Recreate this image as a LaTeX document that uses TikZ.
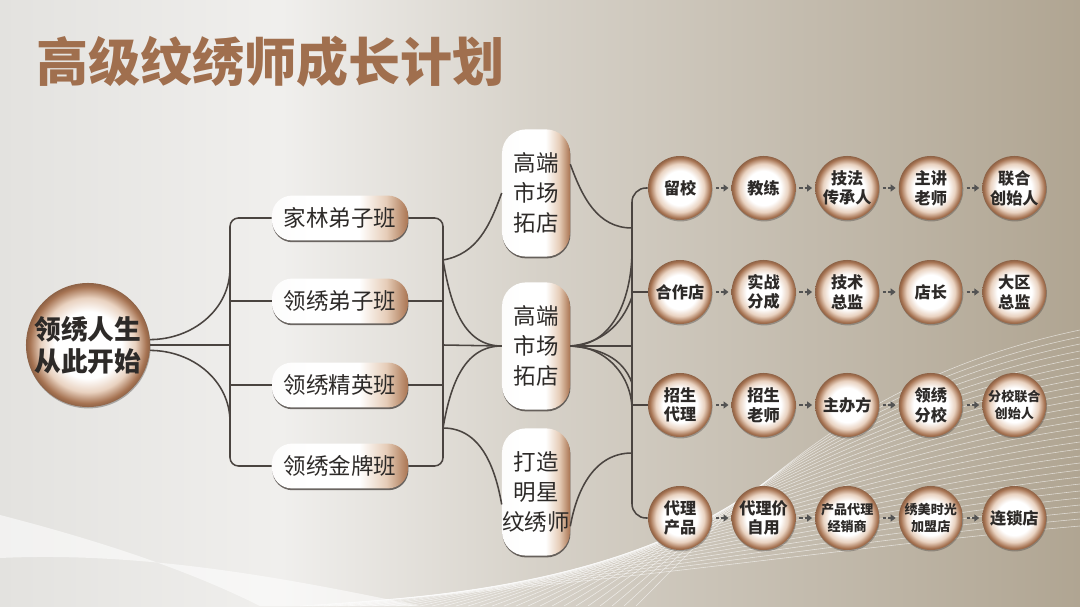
\documentclass[tikz,border=0pt]{standalone}
\usepackage{fontspec}
\setmainfont{Noto Sans CJK SC}
\usetikzlibrary{positioning,shadows,arrows.meta}

\definecolor{titlebrown}{HTML}{A06F4E}
\definecolor{balledge}{HTML}{A67352}
\definecolor{ballmid}{HTML}{E9D2C0}
\definecolor{boxedge}{HTML}{AA7552}
\definecolor{boxmid}{HTML}{E6CDB8}
\definecolor{wire}{HTML}{4A4440}
\definecolor{ink}{HTML}{2D2A28}
\definecolor{bgL}{HTML}{E3E2DF}
\definecolor{bgW}{HTML}{F0EFED}
\definecolor{bgM}{HTML}{D6D1C8}
\definecolor{bgR}{HTML}{B0A592}

\pgfdeclareradialshading{ballshade}{\pgfpoint{0bp}{0bp}}{color(0bp)=(white); color(13.5bp)=(white); color(19bp)=(ballmid); color(23.5bp)=(balledge); color(25bp)=(balledge!85!black); color(50bp)=(balledge!85!black)}
\pgfdeclarehorizontalshading{pillshade}{100bp}{color(0bp)=(white!94!bgM); color(25bp)=(white!94!bgM); color(40bp)=(white); color(57bp)=(white); color(67bp)=(boxmid); color(75bp)=(boxedge); color(100bp)=(boxedge)}
\pgfdeclarehorizontalshading{backdrop}{100bp}{color(0bp)=(bgL); color(25bp)=(bgL); color(38bp)=(bgW); color(50bp)=(bgM); color(75bp)=(bgR); color(100bp)=(bgR)}

\begin{document}
\begin{tikzpicture}[x=0.025cm, y=0.025cm, node distance=0.475cm,
    wire/.style={draw=wire, line width=1.1pt},
    ball/.style={circle, shade, shading=ballshade, minimum size=1.6cm, inner sep=0pt,
      align=center, text=ink, font=\bfseries\fontsize{11.5}{14}\selectfont,
      drop shadow={shadow xshift=0.4pt, shadow yshift=-1pt, opacity=0.4, fill=wire}},
    cramped/.style={font=\bfseries\fontsize{9.3}{12.5}\selectfont},
    pill/.style={rounded corners=0.5cm, shade, shading=pillshade, minimum width=3.4cm,
      minimum height=1.12cm, text=ink, font=\fontsize{16}{20}\selectfont,
      drop shadow={shadow xshift=0.3pt, shadow yshift=-1.3pt, opacity=0.8, fill=wire}},
    tower/.style={rounded corners=0.6cm, shade, shading=pillshade, minimum width=1.7cm,
      minimum height=3.18cm, inner xsep=0pt, align=center, text=ink,
      font=\fontsize{16}{21.3}\selectfont,
      drop shadow={shadow xshift=0.3pt, shadow yshift=-1.3pt, opacity=0.8, fill=wire}},
    hop/.style={-{Triangle[length=3.5pt,width=5pt]}, line width=2pt, draw=gray!65!black,
      dash pattern=on 2.5pt off 1.3pt, shorten <=2.5pt, shorten >=2pt},
    heading/.style={anchor=west, inner sep=0pt, text=titlebrown,
      font=\bfseries\fontsize{37}{40}\selectfont}]

\useasboundingbox (0,0) rectangle (1080,606);
\shade[shading=backdrop] (0,0) rectangle (1080,606);
\fill[white, opacity=0.55] (0,91) .. controls (120,60) and (200,30) .. (260,0)
  -- (420,0) .. controls (300,25) and (150,55) .. (0,48) -- cycle;
\foreach \k in {0,...,28}
  \draw[white, opacity=0.6, line width=0.4pt]
    (300+\k*12,0) .. controls (600+\k*5,20+\k*3) and (850,60+\k*6) .. (1080,80+\k*7);

\node[heading] (title) at (36,544) {高级纹绣师成长计划};

\node[ball, minimum size=3.1cm, font=\bfseries\fontsize{19}{22.7}\selectfont] (root) at (88,261) {领绣人生\\从此开始};

\node[pill] (b1) at (340,388) {家林弟子班};
\node[pill] (b2) at (340,305) {领绣弟子班};
\node[pill] (b3) at (340,221) {领绣精英班};
\node[pill] (b4) at (340,140) {领绣金牌班};

\node[tower] (c1) at (536,413) {高端\\市场\\拓店};
\node[tower] (c2) at (536,260) {高端\\市场\\拓店};
\node[tower] (c3) at (536,114) {打造\\明星\\纹绣师};

\node[ball] (r11) at (680,418) {留校};
\node[ball] (r12) [right=of r11] {教练};
\node[ball] (r13) [right=of r12] {技法\\传承人};
\node[ball] (r14) [right=of r13] {主讲\\老师};
\node[ball] (r15) [right=of r14] {联合\\创始人};

\node[ball] (r21) at (680,314) {合作店};
\node[ball] (r22) [right=of r21] {实战\\分成};
\node[ball] (r23) [right=of r22] {技术\\总监};
\node[ball] (r24) [right=of r23] {店长};
\node[ball] (r25) [right=of r24] {大区\\总监};

\node[ball] (r31) at (680,201) {招生\\代理};
\node[ball] (r32) [right=of r31] {招生\\老师};
\node[ball] (r33) [right=of r32] {主办方};
\node[ball] (r34) [right=of r33] {领绣\\分校};
\node[ball, cramped] (r35) [right=of r34] {分校联合\\创始人};

\node[ball] (r41) at (680,88) {代理\\产品};
\node[ball] (r42) [right=of r41] {代理价\\自用};
\node[ball, cramped] (r43) [right=of r42] {产品代理\\经销商};
\node[ball, cramped] (r44) [right=of r43] {绣美时光\\加盟店};
\node[ball] (r45) [right=of r44] {连锁店};

\coordinate (tL) at (230,261);
\coordinate (tLup) at (230,338);
\coordinate (tLdn) at (230,184);
\coordinate (tR) at (443,261);
\coordinate (jA) at (443,346);
\coordinate (jB) at (443,178);
\coordinate (tRR) at (632,260);
\coordinate (kA) at (632,378);
\coordinate (k1) at (632,356);
\coordinate (k2) at (632,309);
\coordinate (k4) at (632,223);
\coordinate (k5) at (632,196);
\coordinate (kB) at (632,153);

\draw[wire] (root.east) -- (tL);
\draw[wire] (root.5) to[out=0, in=-90] (tLup);
\draw[wire] (root.-5) to[out=0, in=90] (tLdn);
\draw[wire, rounded corners=6pt] (b1.west) -| (tL) |- (b4.west);
\draw[wire] (b2.west) -- (b2.west -| tL);
\draw[wire] (b3.west) -- (b3.west -| tL);

\draw[wire, rounded corners=6pt] (b1.east) -| (tR) |- (b4.east);
\draw[wire] (b2.east) -- (b2.east -| tR);
\draw[wire] (b3.east) -- (b3.east -| tR);

\draw[wire] (jA) to[out=10, in=250] (c1.west);
\draw[wire] (jA) to[out=-80, in=180] (c2.west);
\draw[wire] (tR) -- (c2.west);
\draw[wire] (jB) to[out=80, in=180] (c2.west);
\draw[wire] (jB) to[out=0, in=100] (c3.200);

\draw[wire] (c1.40) to[out=-70, in=180] (kA);
\draw[wire] (c2.east) to[out=0, in=-90] (k1);
\draw[wire] (c2.east) to[out=5, in=-110] (k2);
\draw[wire] (c2.east) -- (tRR);
\draw[wire] (c2.east) to[out=-5, in=110] (k4);
\draw[wire] (c2.east) to[out=0, in=90] (k5);
\draw[wire] (c3.-45) to[out=80, in=180] (kB);

\draw[wire, rounded corners=10pt] (r11.west) -| (tRR) |- (r41.west);
\draw[wire] (r21.west) -- (r21.west -| tRR);
\draw[wire] (r31.west) -- (r31.west -| tRR);

\foreach \r in {1,...,4}
  \foreach \c [count=\n from 2] in {1,...,4}
    \draw[hop] (r\r\c) -- (r\r\n);
\end{tikzpicture}
\end{document}
